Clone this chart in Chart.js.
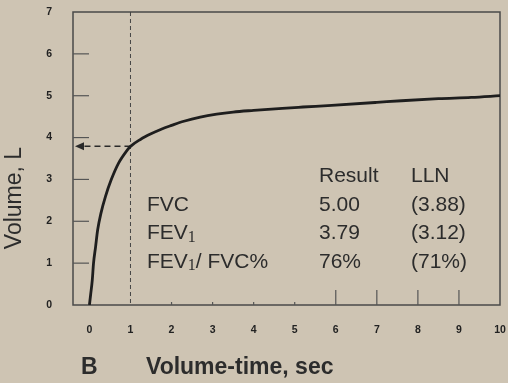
<!DOCTYPE html>
<html>
<head>
<meta charset="utf-8">
<script src="https://cdn.jsdelivr.net/npm/chart.js@4.4.1/dist/chart.umd.min.js"></script>
<style>
  html, body { margin: 0; padding: 0; background: #cec4b3; }
  #wrap { width: 508px; height: 383px; position: relative; }
</style>
</head>
<body>
<div id="wrap"><canvas id="spiro" width="508" height="383"></canvas></div>
<script>
// Forced expiration: exhaled volume (L) against time (s)
const timeSec  = [0, 0.03, 0.07, 0.10, 0.15, 0.20, 0.28, 0.39, 0.53, 0.71, 0.92, 1.00, 1.25, 1.50, 1.75, 2.00, 2.30, 2.70, 3.10, 3.50, 4.00, 4.70, 5.20, 5.90, 7.00, 7.60, 8.50, 9.30, 10.0];
const volumeL  = [0, 0.25, 0.60, 1.00, 1.39, 1.79, 2.19, 2.59, 2.99, 3.39, 3.70, 3.79, 3.96, 4.09, 4.20, 4.29, 4.39, 4.49, 4.56, 4.61, 4.65, 4.70, 4.73, 4.77, 4.84, 4.88, 4.93, 4.96, 5.00];

const xTickValues = [0, 1, 2, 3, 4, 5, 6, 7, 8, 9, 10];
const yTickValues = [0, 1, 2, 3, 4, 5, 6, 7];

// Summary table
const rowNames     = ['FVC', 'FEV', 'FEV'];
const rowSubs      = ['', '1', '1'];
const rowTails     = ['', '', '/ FVC%'];
const resultValues = ['5.00', '3.79', '76%'];
const llnValues    = ['(3.88)', '(3.12)', '(71%)'];

const fev1Time = 1;
const fev1Volume = 3.79;

const INK = '#2c2c2c';
const SANS = '"Liberation Sans", Arial, sans-serif';
const SERIF = '"Liberation Serif", "Times New Roman", serif';

// keep the plot box fixed: tick-label padding should not shrink it
function pinScale(s, size) {
  if (s.isHorizontal()) s.height = size; else s.width = size;
  s.paddingTop = 0;
  s.paddingBottom = 0;
  s.paddingLeft = 0;
  s.paddingRight = 0;
}

const decorations = {
  id: 'decorations',
  beforeDatasetsDraw(chart) {
    const { ctx, chartArea: a, scales: { x, y } } = chart;
    ctx.save();

    // frame
    ctx.strokeStyle = '#4a4a4a';
    ctx.lineWidth = 1.5;
    ctx.strokeRect(a.left, a.top, a.right - a.left, a.bottom - a.top);

    // inward tick marks on the volume axis
    ctx.lineWidth = 1.2;
    ctx.strokeStyle = '#555';
    yTickValues.forEach(v => {
      if (v === 0 || v === 7) return;
      const py = y.getPixelForValue(v);
      ctx.beginPath();
      ctx.moveTo(a.left, py);
      ctx.lineTo(a.left + 16, py);
      ctx.stroke();
    });

    // inward tick marks on the time axis
    xTickValues.forEach(v => {
      if (v <= 1 || v === 10) return;
      const px = x.getPixelForValue(v);
      const len = v >= 6 ? 15 : 3;
      ctx.beginPath();
      ctx.moveTo(px, a.bottom);
      ctx.lineTo(px, a.bottom - len);
      ctx.stroke();
    });

    // dashed marker at one second
    const tx = x.getPixelForValue(fev1Time);
    ctx.strokeStyle = '#444';
    ctx.lineWidth = 1;
    ctx.setLineDash([4, 3]);
    ctx.beginPath();
    ctx.moveTo(tx, a.top);
    ctx.lineTo(tx, a.bottom);
    ctx.stroke();

    // dashed arrow pointing to FEV1 on the volume axis
    const fy = y.getPixelForValue(fev1Volume);
    const tipX = a.left + 2;
    ctx.strokeStyle = '#2a2a2a';
    ctx.lineWidth = 1.5;
    ctx.setLineDash([6, 4]);
    ctx.beginPath();
    ctx.moveTo(tx, fy);
    ctx.lineTo(tipX + 8, fy);
    ctx.stroke();
    ctx.setLineDash([]);
    ctx.fillStyle = '#2a2a2a';
    ctx.beginPath();
    ctx.moveTo(tipX, fy);
    ctx.lineTo(tipX + 9, fy - 4);
    ctx.lineTo(tipX + 9, fy + 4);
    ctx.closePath();
    ctx.fill();

    ctx.restore();
  },
  afterDraw(chart) {
    const { ctx } = chart;
    ctx.save();
    ctx.fillStyle = INK;
    ctx.textBaseline = 'alphabetic';

    // table header
    ctx.font = '21px ' + SANS;
    ctx.textAlign = 'left';
    ctx.fillText('Result', 319, 182);
    ctx.fillText('LLN', 411, 182);

    // table rows
    const baseY = 210.5;
    const step = 28.6;
    rowNames.forEach((name, i) => {
      const by = baseY + i * step;
      let cx = 147;
      ctx.font = '21px ' + SANS;
      ctx.fillText(name, cx, by);
      cx += ctx.measureText(name).width;
      if (rowSubs[i]) {
        ctx.font = '16px ' + SERIF;
        ctx.fillText(rowSubs[i], cx, by + 2.5);
        cx += ctx.measureText(rowSubs[i]).width;
      }
      if (rowTails[i]) {
        ctx.font = '21px ' + SANS;
        ctx.fillText(rowTails[i], cx, by);
      }
      ctx.font = '21px ' + SANS;
      ctx.fillText(resultValues[i], 319, by);
      ctx.fillText(llnValues[i], 411, by);
    });

    // axis titles and panel letter
    ctx.font = 'bold 23px ' + SANS;
    ctx.textBaseline = 'middle';
    ctx.fillText('B', 81, 368);
    ctx.fillText('Volume-time, sec', 146, 368);

    ctx.font = '23px ' + SANS;
    ctx.translate(15, 198);
    ctx.rotate(-Math.PI / 2);
    ctx.textAlign = 'center';
    ctx.fillText('Volume, L', 0, 0);

    ctx.restore();
  }
};

const points = timeSec.map((t, i) => ({ x: t, y: volumeL[i] }));

new Chart(document.getElementById('spiro'), {
  type: 'line',
  data: {
    datasets: [{
      data: points,
      borderColor: '#1e1e1e',
      borderWidth: 2.8,
      pointRadius: 0,
      fill: false,
      cubicInterpolationMode: 'monotone'
    }]
  },
  options: {
    responsive: false,
    animation: false,
    devicePixelRatio: 1,
    layout: { padding: { top: 12, right: 8, left: 0, bottom: 0 } },
    plugins: { legend: { display: false }, tooltip: { enabled: false } },
    scales: {
      x: {
        type: 'linear',
        min: -0.4,
        max: 10,
        afterBuildTicks: s => { s.ticks = xTickValues.map(v => ({ value: v })); },
        afterFit: s => pinScale(s, 78),
        grid: { display: false, drawTicks: false },
        border: { display: false },
        ticks: {
          autoSkip: false,
          maxRotation: 0,
          padding: 19,
          color: '#222',
          font: { family: SANS, size: 10.5, weight: 'bold' }
        }
      },
      y: {
        type: 'linear',
        min: 0,
        max: 7,
        afterBuildTicks: s => { s.ticks = yTickValues.map(v => ({ value: v })); },
        afterFit: s => pinScale(s, 73),
        grid: { display: false, drawTicks: false },
        border: { display: false },
        ticks: {
          autoSkip: false,
          padding: 21,
          color: '#222',
          font: { family: SANS, size: 10.5, weight: 'bold' }
        }
      }
    }
  },
  plugins: [decorations]
});
</script>
</body>
</html>
